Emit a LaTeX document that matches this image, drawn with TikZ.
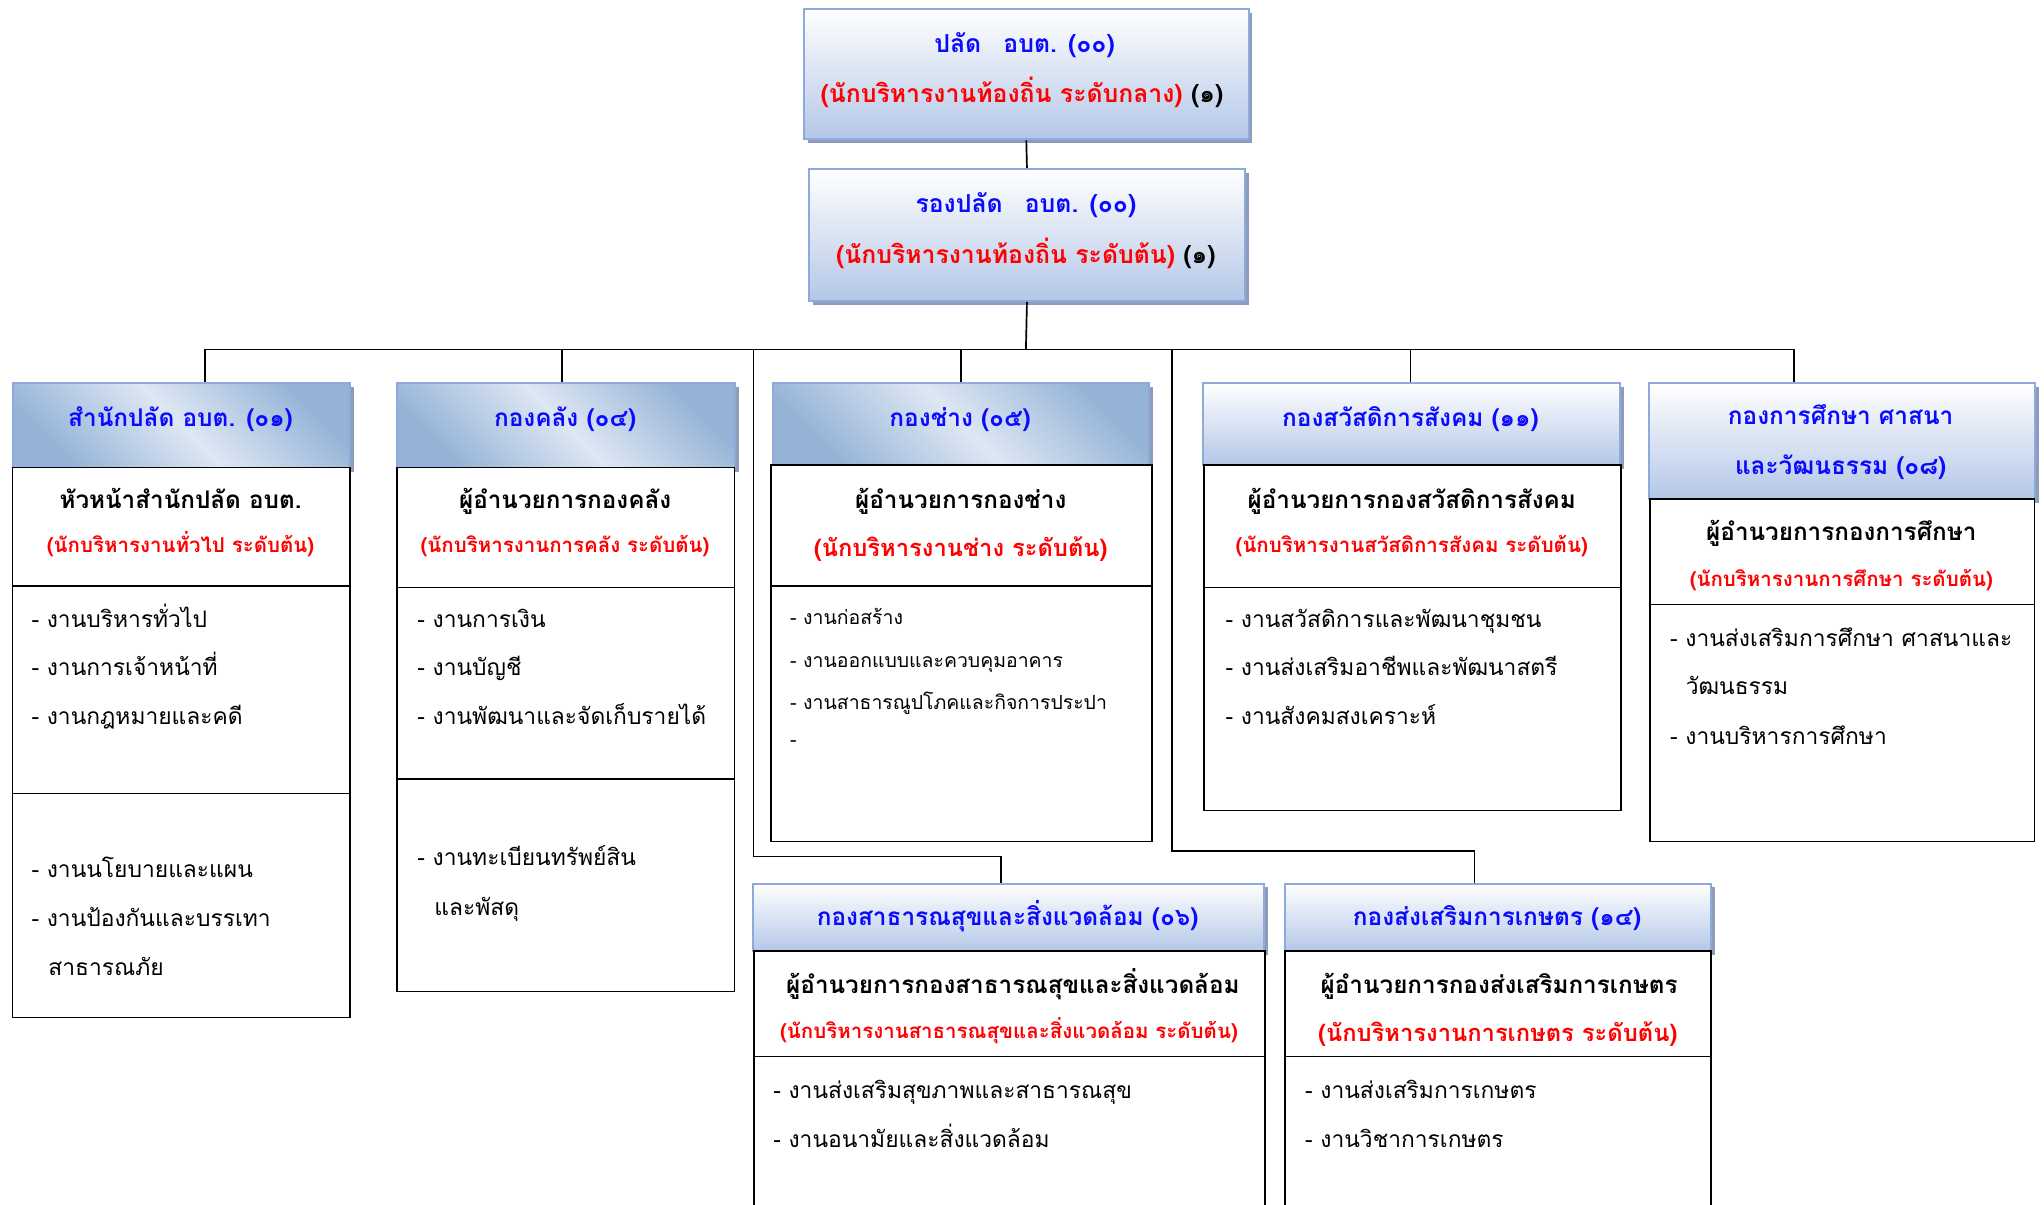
\documentclass[tikz,border=0pt]{standalone}
\usepackage{fontspec}
\newfontfamily\thai[Script=Thai]{Loma}
\usetikzlibrary{shadows}
\definecolor{hborder}{RGB}{142,170,219}
\definecolor{hshadow}{RGB}{140,156,186}
\definecolor{gbot}{RGB}{180,199,231}
\definecolor{hdark}{RGB}{149,179,215}
\definecolor{hlight}{RGB}{222,231,243}
\definecolor{tblue}{RGB}{10,10,255}
\definecolor{tred}{RGB}{255,0,0}
\pgfdeclarehorizontalshading{hdiag}{100bp}{color(0bp)=(hdark); color(25bp)=(hdark); color(50bp)=(hlight); color(75bp)=(hdark); color(100bp)=(hdark)}
\newcommand\bx[6]{\node[#1, anchor=north west, inner sep=0pt, minimum width={#5pt-#3pt}, minimum height={#6pt-#4pt}] (#2) at (#3,#4) {};}
\newcommand\tx[5]{\node[#1] (#2) at (#3,#4) {#5};}
\begin{document}
\begin{tikzpicture}[x=1pt,y=-1pt,
  shad/.style={drop shadow={shadow xshift=3pt, shadow yshift=-3pt, fill=hshadow, opacity=1}},
  vbox/.style={draw=hborder, line width=1.6pt, top color=white, bottom color=gbot, shad},
  dbox/.style={draw=hborder, line width=1.4pt, shading=hdiag, shading angle=45, shad},
  body/.style={draw=black, line width=1.2pt, fill=white},
  conn/.style={draw=black, line width=1.3pt},
  tbase/.style={inner sep=0pt, text height=0.62em, text depth=0.08em, yshift=-4.3pt},
  top/.style={tbase, anchor=center, text=tblue, font=\thai\bfseries\fontsize{19}{23}\selectfont},
  hdr/.style={tbase, anchor=center, text=tblue, font=\thai\bfseries\fontsize{18.7}{22}\selectfont},
  ttl/.style={tbase, anchor=center, text=black, font=\thai\bfseries\fontsize{18.6}{22}\selectfont},
  sub/.style={tbase, anchor=center, text=tred, font=\thai\bfseries\fontsize{15.7}{18}\selectfont},
  subL/.style={tbase, anchor=center, text=tred, font=\thai\bfseries\fontsize{18.2}{22}\selectfont},
  itm/.style={tbase, anchor=west, text=black, font=\thai\fontsize{17.5}{22}\selectfont},
  itmS/.style={tbase, anchor=west, text=black, font=\thai\fontsize{14.9}{18}\selectfont}]
\useasboundingbox (0,0) rectangle (1568,924);
\clip (0,0) rectangle (1568,924);
% top boxes
\bx{vbox}{T1}{616}{6}{957}{106}
\bx{vbox}{T2}{620}{129}{954}{230}
\tx{top}{T1a}{786}{33}{ปลัด\hspace{17pt}อบต. (๐๐)}
\tx{top}{T1b}{784}{72}{\textcolor{tred}{(นักบริหารงานท้องถิ่น ระดับกลาง)} \textcolor{black}{(๑)}}
\tx{top}{T2a}{787}{156}{รองปลัด\hspace{17pt}อบต. (๐๐)}
\tx{top}{T2b}{787}{195}{\textcolor{tred}{(นักบริหารงานท้องถิ่น ระดับต้น)} \textcolor{black}{(๑)}}
% headers
\bx{dbox}{H1}{9}{293}{268}{358}
\bx{dbox}{H2}{304}{293}{563}{358}
\bx{dbox}{H3}{592}{293}{881}{356}
\bx{vbox}{H4}{922}{293}{1242}{356}
\bx{vbox}{H5}{1264}{293}{1560}{382}
\bx{vbox}{H6}{577}{677}{969}{729}
\bx{vbox}{H7}{985}{677}{1312}{729}
% connectors
\coordinate (bus) at (787,268);
\coordinate (d1) at (157,268);
\coordinate (d2) at (431,268);
\coordinate (d3) at (737,268);
\coordinate (d4) at (1082,268);
\coordinate (d5) at (1376,268);
\coordinate (e1) at (578,268);
\coordinate (e1b) at (578,657);
\coordinate (e1c) at (768,657);
\coordinate (e2) at (899,268);
\coordinate (e2b) at (899,653);
\coordinate (e2c) at (1131,653);
\draw[conn] (T1.south) -- (T2.north);
\draw[conn] (T2.south) -- (bus);
\draw[conn] (d1) -- (d5);
\draw[conn] (d1) -- (d1 |- H1.north);
\draw[conn] (d2) -- (d2 |- H2.north);
\draw[conn] (d3) -- (d3 |- H3.north);
\draw[conn] (d4) -- (d4 |- H4.north);
\draw[conn] (d5) -- (d5 |- H5.north);
\draw[conn] (e1) -- (e1b) -- (e1c) -- (e1c |- H6.north);
\draw[conn] (e2) -- (e2b) -- (e2c) -- (e2c |- H7.north);
% bodies
\bx{body}{B1a}{9}{358}{268}{449}
\bx{body}{B1b}{9}{449}{268}{608}
\bx{body}{B1c}{9}{608}{268}{780}
\bx{body}{B2a}{304}{358}{563}{450}
\bx{body}{B2b}{304}{450}{563}{597}
\bx{body}{B2c}{304}{597}{563}{760}
\bx{body}{B3a}{591}{356}{883}{449}
\bx{body}{B3b}{591}{449}{883}{645}
\bx{body}{B4a}{923}{356}{1243}{450}
\bx{body}{B4b}{923}{450}{1243}{621}
\bx{body}{B5a}{1265}{382}{1560}{463}
\bx{body}{B5b}{1265}{463}{1560}{645}
\bx{body}{B6a}{578}{729}{970}{810}
\bx{body}{B6b}{578}{810}{970}{940}
\bx{body}{B7a}{985}{729}{1312}{810}
\bx{body}{B7b}{985}{810}{1312}{940}
% header texts
\tx{hdr}{H1t}{138.5}{320}{สำนักปลัด อบต. (๐๑)}
\tx{hdr}{H2t}{433.5}{320}{กองคลัง (๐๔)}
\tx{hdr}{H3t}{736.5}{320}{กองช่าง (๐๕)}
\tx{hdr}{H4t}{1082}{320}{กองสวัสดิการสังคม (๑๑)}
\tx{hdr}{H5t}{1412}{319}{กองการศึกษา ศาสนา}
\tx{hdr}{H5u}{1412}{357}{และวัฒนธรรม (๐๘)}
\tx{hdr}{H6t}{773}{703}{กองสาธารณสุขและสิ่งแวดล้อม (๐๖)}
\tx{hdr}{H7t}{1148.5}{703}{กองส่งเสริมการเกษตร (๑๔)}
% titles
\tx{ttl}{B1t}{138.5}{383}{หัวหน้าสำนักปลัด อบต.}
\tx{sub}{B1s}{138.5}{417}{(นักบริหารงานทั่วไป ระดับต้น)}
\tx{ttl}{B2t}{433.5}{383}{ผู้อำนวยการกองคลัง}
\tx{sub}{B2s}{433.5}{417}{(นักบริหารงานการคลัง ระดับต้น)}
\tx{ttl}{B3t}{737}{383}{ผู้อำนวยการกองช่าง}
\tx{subL}{B3s}{737}{420}{(นักบริหารงานช่าง ระดับต้น)}
\tx{ttl}{B4t}{1083}{383}{ผู้อำนวยการกองสวัสดิการสังคม}
\tx{sub}{B4s}{1083}{417}{(นักบริหารงานสวัสดิการสังคม ระดับต้น)}
\tx{ttl}{B5t}{1412.5}{408}{ผู้อำนวยการกองการศึกษา}
\tx{sub}{B5s}{1412.5}{443}{(นักบริหารงานการศึกษา ระดับต้น)}
\tx{ttl}{B6t}{777}{755}{ผู้อำนวยการกองสาธารณสุขและสิ่งแวดล้อม}
\tx{sub}{B6s}{774}{790}{(นักบริหารงานสาธารณสุขและสิ่งแวดล้อม ระดับต้น)}
\tx{ttl}{B7t}{1150}{755}{ผู้อำนวยการกองส่งเสริมการเกษตร}
\tx{subL}{B7s}{1149}{792}{(นักบริหารงานการเกษตร ระดับต้น)}
% items
\tx{itm}{i11}{24}{474}{- งานบริหารทั่วไป}
\tx{itm}{i12}{24}{511}{- งานการเจ้าหน้าที่}
\tx{itm}{i13}{24}{549}{- งานกฎหมายและคดี}
\tx{itm}{i14}{24}{666}{- งานนโยบายและแผน}
\tx{itm}{i15}{24}{704}{- งานป้องกันและบรรเทา}
\tx{itm}{i16}{37}{741}{สาธารณภัย}
\tx{itm}{i21}{320}{474}{- งานการเงิน}
\tx{itm}{i22}{320}{511}{- งานบัญชี}
\tx{itm}{i23}{320}{549}{- งานพัฒนาและจัดเก็บรายได้}
\tx{itm}{i24}{320}{657}{- งานทะเบียนทรัพย์สิน}
\tx{itm}{i25}{333}{695}{และพัสดุ}
\tx{itmS}{i31}{606}{472}{- งานก่อสร้าง}
\tx{itmS}{i32}{606}{505}{- งานออกแบบและควบคุมอาคาร}
\tx{itmS}{i33}{606}{537}{- งานสาธารณูปโภคและกิจการประปา}
\tx{itmS}{i34}{606}{566}{-}
\tx{itm}{i41}{940}{474}{- งานสวัสดิการและพัฒนาชุมชน}
\tx{itm}{i42}{940}{511}{- งานส่งเสริมอาชีพและพัฒนาสตรี}
\tx{itm}{i43}{940}{549}{- งานสังคมสงเคราะห์}
\tx{itm}{i51}{1281}{489}{- งานส่งเสริมการศึกษา ศาสนาและ}
\tx{itm}{i52}{1293}{526}{วัฒนธรรม}
\tx{itm}{i53}{1281}{564}{- งานบริหารการศึกษา}
\tx{itm}{i61}{593}{836}{- งานส่งเสริมสุขภาพและสาธารณสุข}
\tx{itm}{i62}{593}{873}{- งานอนามัยและสิ่งแวดล้อม}
\tx{itm}{i71}{1001}{836}{- งานส่งเสริมการเกษตร}
\tx{itm}{i72}{1001}{873}{- งานวิชาการเกษตร}
\end{tikzpicture}
\end{document}
